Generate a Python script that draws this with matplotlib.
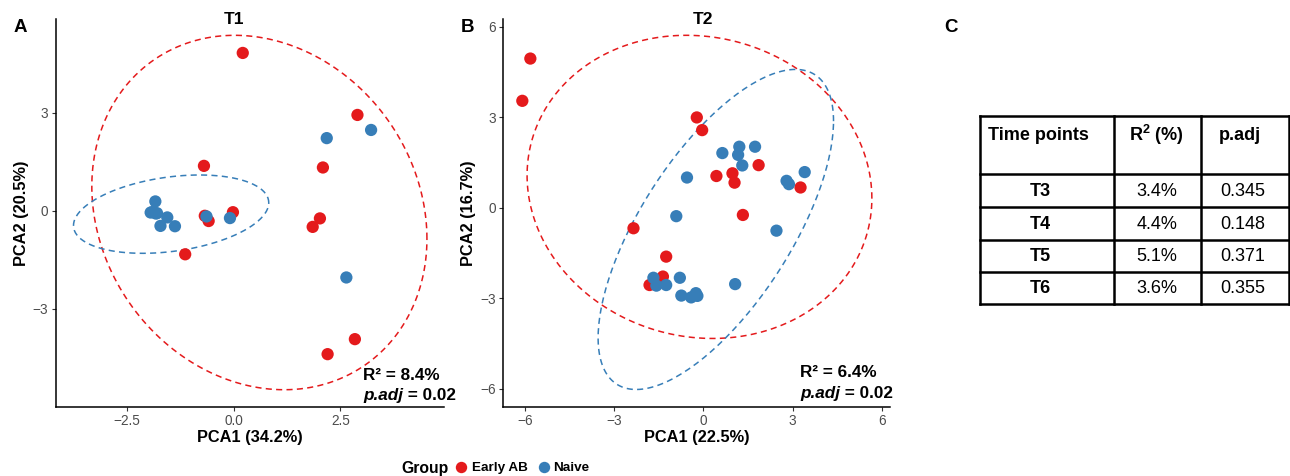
import numpy as np
import matplotlib
matplotlib.use("Agg")
import matplotlib.pyplot as plt

plt.rcParams['font.family'] = ['Liberation Sans', 'DejaVu Sans']
plt.rcParams['mathtext.fontset'] = 'custom'
plt.rcParams['mathtext.rm'] = 'Liberation Sans'
plt.rcParams['mathtext.bf'] = 'Liberation Sans:bold'
plt.rcParams['mathtext.default'] = 'bf'

RED = '#E41A1C'
BLUE = '#377EB8'

# ---------------- data ----------------
groups = ['Early AB', 'Naive']

# Panel A (T1)
t1_early_x = [0.21, 2.90, -0.70, 2.09, -0.02, -0.59, -0.68, -1.14, 2.02, 1.85, 2.84, 2.20]
t1_early_y = [4.84, 2.94, 1.38, 1.33, -0.04, -0.31, -0.15, -1.33, -0.23, -0.49, -3.93, -4.39]
t1_naive_x = [3.22, 2.18, -1.84, -1.95, -1.80, -1.90, -1.83, -1.56, -1.72, -1.38, -0.64, -0.09, 2.64]
t1_naive_y = [2.48, 2.23, 0.29, -0.05, -0.07, -0.03, -0.08, -0.20, -0.46, -0.47, -0.17, -0.22, -2.04]

# Panel B (T2)
t2_early_x = [-5.82, -6.09, -0.22, -0.04, 0.44, 0.98, 1.05, 1.86, 3.27, 1.33, -2.35, -1.25, -1.36, -1.81]
t2_early_y = [4.94, 3.54, 2.99, 2.57, 1.05, 1.14, 0.83, 1.41, 0.67, -0.24, -0.68, -1.62, -2.28, -2.56]
t2_naive_x = [0.64, 1.21, 1.74, 1.17, 1.31, -0.55, 3.41, 2.80, 2.88, -0.91, 2.46,
              -1.68, -1.58, -1.25, -0.79, 1.07, -0.74, -0.41, -0.25, -0.20]
t2_naive_y = [1.81, 2.02, 2.02, 1.75, 1.40, 1.00, 1.18, 0.89, 0.78, -0.28, -0.76,
              -2.32, -2.58, -2.56, -2.32, -2.53, -2.91, -2.97, -2.83, -2.92]

# 95% ellipse summaries: centre (x, y), sd (x, y), covariance
t1_ell_center = {'Early AB': (0.60, -0.05), 'Naive': (-1.47, -0.10)}
t1_ell_sd = {'Early AB': (3.93, 5.43), 'Naive': (2.29, 1.20)}
t1_ell_cov = {'Early AB': -3.15, 'Naive': 0.80}
t2_ell_center = {'Early AB': (-0.13, 0.69), 'Naive': (0.42, -0.72)}
t2_ell_sd = {'Early AB': (5.80, 5.02), 'Naive': (3.96, 5.30)}
t2_ell_cov = {'Early AB': -2.20, 'Naive': 14.20}

titles = ['T1', 'T2']
xlabels = ['PCA1 (34.2%)', 'PCA1 (22.5%)']
ylabels = ['PCA2 (20.5%)', 'PCA2 (16.7%)']
r2_text = ['R\u00b2 = 8.4%', 'R\u00b2 = 6.4%']
padj_val = ['0.02', '0.02']

# Table (panel C)
tab_header = ['Time points', 'R$^2$ (%)', 'p.adj']
tab_time = ['T3', 'T4', 'T5', 'T6']
tab_r2 = ['3.4%', '4.4%', '5.1%', '3.6%']
tab_padj = ['0.345', '0.148', '0.371', '0.355']

# ---------------- figure ----------------
W, H = 1290, 476
fig = plt.figure(figsize=(W / 100, H / 100), dpi=100)


def fx(x):
    return x / W


def fy(y):
    return 1 - y / H


def ellipse_pts(center, sd, cov, n=200):
    S = np.array([[sd[0] ** 2, cov], [cov, sd[1] ** 2]])
    L = np.linalg.cholesky(S)
    t = np.linspace(0, 2 * np.pi, n)
    pts = L @ np.vstack([np.cos(t), np.sin(t)])
    return center[0] + pts[0], center[1] + pts[1]


panels = [
    dict(box=(56, 19, 444, 406.7), xlim=(-4.17, 4.93), ylim=(-6.0, 5.88),
         xticks=[-2.5, 0.0, 2.5], xtl=['\u22122.5', '0.0', '2.5'],
         yticks=[-3, 0, 3], ytl=['\u22123', '0', '3'],
         ex=t1_early_x, ey=t1_early_y, nx=t1_naive_x, ny=t1_naive_y,
         ec=t1_ell_center, es=t1_ell_sd, ev=t1_ell_cov, txt=(3.03, -5.04, -5.65)),
    dict(box=(503.3, 19, 890, 406.7), xlim=(-6.73, 6.28), ylim=(-6.59, 6.25),
         xticks=[-6, -3, 0, 3, 6], xtl=['\u22126', '\u22123', '0', '3', '6'],
         yticks=[-6, -3, 0, 3, 6], ytl=['\u22126', '\u22123', '0', '3', '6'],
         ex=t2_early_x, ey=t2_early_y, nx=t2_naive_x, ny=t2_naive_y,
         ec=t2_ell_center, es=t2_ell_sd, ev=t2_ell_cov, txt=(3.26, -5.47, -6.14)),
]

for i, p in enumerate(panels):
    x0, y0, x1, y1 = p['box']
    ax = fig.add_axes([fx(x0), fy(y1), (x1 - x0) / W, (y1 - y0) / H])
    ax.set_xlim(*p['xlim'])
    ax.set_ylim(*p['ylim'])
    for g, col in zip(groups, [RED, BLUE]):
        exx, eyy = ellipse_pts(p['ec'][g], p['es'][g], p['ev'][g])
        ax.plot(exx, eyy, color=col, lw=1.1, ls=(0, (4.0, 2.8)), zorder=2)
    ax.scatter(p['ex'], p['ey'], s=78, color=RED, edgecolors='none', zorder=3)
    ax.scatter(p['nx'], p['ny'], s=78, color=BLUE, edgecolors='none', zorder=4)
    for s in ['top', 'right']:
        ax.spines[s].set_visible(False)
    for s in ['left', 'bottom']:
        ax.spines[s].set_linewidth(1.1)
        ax.spines[s].set_color('black')
    ax.set_xticks(p['xticks'])
    ax.set_xticklabels(p['xtl'])
    ax.set_yticks(p['yticks'])
    ax.set_yticklabels(p['ytl'])
    ax.tick_params(axis='both', length=3, width=0.8, color='#333333',
                   labelcolor='#4D4D4D', labelsize=9.8, pad=2.5)
    ax.set_xlabel(xlabels[i], fontsize=11.8, fontweight='bold', labelpad=1)
    ax.set_ylabel(ylabels[i], fontsize=11.8, fontweight='bold', labelpad=3)
    ax.text(0, p['ylim'][1], titles[i], ha='center', va='center',
            fontsize=12.5, fontweight='bold', clip_on=False)
    tx, ty1, ty2 = p['txt']
    ax.text(tx, ty1, r2_text[i], ha='left', va='center', fontsize=12.3,
            fontweight='bold', clip_on=False, zorder=5)
    t1 = ax.text(tx, ty2, 'p.adj', ha='left', va='center', fontsize=12.3,
                 fontweight='bold', style='italic', clip_on=False, zorder=5)
    ax.annotate(' = ' + padj_val[i], xy=(1, 0), xycoords=t1, ha='left', va='bottom',
                fontsize=12.3, fontweight='bold', annotation_clip=False, zorder=5)

# overlay axes in pixel coordinates for labels, legend and table
ov = fig.add_axes([0, 0, 1, 1], facecolor='none')
ov.set_xlim(0, W)
ov.set_ylim(H, 0)
ov.axis('off')

for lab, (lx, ly) in zip(['A', 'B', 'C'], [(20, 27), (467, 27), (951, 27)]):
    ov.text(lx, ly, lab, ha='center', va='center', fontsize=13.5, fontweight='bold')

# legend
ov.text(401, 468, 'Group', ha='left', va='center', fontsize=11.3, fontweight='bold')
for g, col, mx, tx in zip(groups, [RED, BLUE], [461, 544], [471.5, 553]):
    ov.plot([mx], [466.5], marker='o', ms=8.2, color=col, mec='none')
    ov.text(tx, 468, g, ha='left', va='center', fontsize=9.7, fontweight='bold')

# table
col_x = [980, 1114.3, 1200.7, 1288.5]
row_y = [115.7, 174, 207.3, 240, 272.3, 304]
lw = 1.8
for xx in col_x:
    ov.plot([xx, xx], [row_y[0], row_y[-1]], color='black', lw=lw, solid_capstyle='projecting')
for yy in row_y:
    ov.plot([col_x[0], col_x[-1]], [yy, yy], color='black', lw=lw, solid_capstyle='projecting')

ov.text(988, 135, tab_header[0], ha='left', va='center', fontsize=13, fontweight='bold')
ov.text(1156, 135, tab_header[1], ha='center', va='center', fontsize=13, fontweight='bold')
ov.text(1240, 135, tab_header[2], ha='center', va='center', fontsize=13, fontweight='bold')
for k in range(len(tab_time)):
    yc = (row_y[k + 1] + row_y[k + 2]) / 2 + 0.5
    ov.text(1040, yc, tab_time[k], ha='center', va='center', fontsize=13, fontweight='bold')
    ov.text(1157, yc, tab_r2[k], ha='center', va='center', fontsize=13)
    ov.text(1243, yc, tab_padj[k], ha='center', va='center', fontsize=13)

fig.savefig('out.png', dpi=100)
